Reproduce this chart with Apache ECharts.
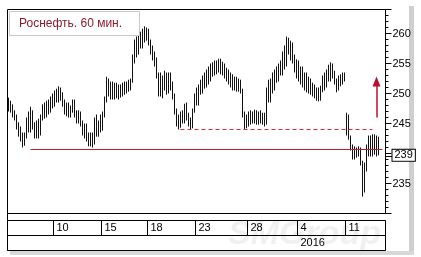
<!DOCTYPE html>
<html><head><meta charset="utf-8">
<script src="https://cdn.jsdelivr.net/npm/echarts@6/dist/echarts.min.js"></script>
<style>html,body{margin:0;padding:0;background:#fff}#c{width:421px;height:257px}</style>
</head><body><div id="c"></div><script>
const titleText = 'Роснефть. 60 мин.';
// hourly bars: [open, close, low, high]
const bars = [
[248,248.5,247,249.3],[248.5,247.5,246.8,248.8],[247.5,246.5,246,248.2],[246.5,246,245.5,247.2],[246,244.5,244,246.5],
[244.5,243.5,242.8,245.2],[243.5,242.5,242,244.5],[242.5,241.8,241,243.5],[241.8,243,241.3,243.5],[243,245.5,242.5,246],
[245.5,244,243.5,247],[244,246.5,243.5,247.8],[246.5,244.5,244,247.2],[244.5,243.2,242.5,245.2],[243.2,244.5,242.5,245.5],
[244.5,243.5,242.5,245.8],[243.5,246,243,246.5],[246,247.5,245.5,248.2],[247.5,246.5,245.8,248.5],[246.5,248,246,248.8],
[248,247,246.5,249],[247,249,246.8,249.5],[249,248.2,247.5,250],[248.2,250,247.8,250.5],[250,249,248.5,250.8],
[249,250.5,248.5,251.2],[250.5,249.5,248.8,251],[249.5,248.5,247.8,250.2],[248.5,247,246.5,249],[247,248,246.2,248.5],
[248,246.5,246,248.5],[246.5,247.5,246,248],[247.5,248.5,246.8,249],[248.5,246.5,246,249],[246.5,245.8,245,247.2],
[245.8,246.8,245,247.2],[246.8,245,244.5,247],[245,243.5,243,245.5],[243.5,244.5,242.5,245],[244.5,242.5,242,245],
[242.5,241.8,241.2,243.5],[241.8,243,241.2,243.5],[243,241.8,241,243.5],[241.8,245.5,241.5,246],[245.5,243.5,242.8,246.5],
[243.5,245,242.8,245.5],[245,244,243.5,246.5],[244,246.5,243.8,247],[246.5,249,246,249.5],[249,251.5,248.5,252.8],
[251.5,250,249.5,252.5],[250,251.5,249,252],[251.5,249.5,249,252],[249.5,251,249,251.8],[251,250,249.2,251.8],
[250,250.8,249,251.5],[250.8,250,249.3,251.5],[250,251.2,249.5,251.8],[251.2,250.5,249.8,252],[250.5,251.5,250,252],
[251.5,251,250.3,252.3],[251,252,250.5,252.5],[252,256,251.8,256.5],[256,258,255,259],[258,257,256,259.5],
[257,259.5,256.5,260],[259.5,258,257.5,260.3],[258,260.2,257.5,260.8],[260.2,259,258.5,261.2],[259,260.5,258.8,261],
[260.5,258.5,258,260.8],[258.5,257,256.5,259],[257,256,255.5,258],[256,255.5,254.5,257],[255.5,253,252.5,256],
[253,250,249.5,253.5],[250,252.5,249.5,253.5],[252.5,251,249.2,253],[251,253,250.5,253.8],[253,250.5,249.8,253.5],
[250.5,252.8,250,253.5],[252.8,251.5,250.5,253.5],[251.5,249.5,249,252],[249.5,247,246.5,250],[247,245,244.5,247.5],
[245,244.8,244,246.5],[244.8,246.5,244.3,247],[246.5,245.5,245,247.2],[245.5,247.5,245,248.3],[247.5,246,245.5,248.5],
[246,245,244.5,246.8],[245,244.5,244,246],[244.5,247,244.2,247.5],[247,249.5,246.8,250],[249.5,248.5,248,251],
[248.5,251,248,251.5],[251,250.5,249.8,252.3],[250.5,252.5,250,253],[252.5,251.5,250.8,253.5],[251.5,253.5,251,254],
[253.5,252.5,251.5,254.5],[252.5,254,252,255],[254,253.5,252.8,255.2],[253.5,255,253,255.5],[255,254,253.2,255.5],
[254,255.2,253.5,255.8],[255.2,254,253.2,255.8],[254,254.8,253,255.3],[254.8,253,252.5,255],[253,253.8,252,254.3],
[253.8,252,251.5,254],[252,252.8,251,253.5],[252.8,251.2,250.5,253.2],[251.2,252,250.5,252.8],[252,251,250.3,252.8],
[251,252,250.3,252.5],[252,250.5,250,252.3],[250.5,246.5,246,250.8],[246.5,244.8,244,247],[244.8,246,244.2,246.5],
[246,245,244.5,247],[245,246.5,244.8,247.2],[246.5,245.5,245,247],[245.5,246.8,245,247.3],[246.8,245.2,244.8,247.2],
[245.2,246.5,244.8,247],[246.5,245.5,245,247.2],[245.5,246.2,244.8,246.8],[246.2,245,244.5,246.8],[245,250.5,244.8,251],
[250.5,249,248.5,252.3],[249,252,248.5,252.5],[252,251,250,253.5],[251,253.5,250.5,254],[253.5,252.5,251.8,254.5],
[252.5,254.5,252,255],[254.5,253.5,253,255.5],[253.5,256.5,253,257],[256.5,255,254,258],[255,258.5,254.5,259.5],
[258.5,257,256.5,259.3],[257,258,255.5,258.8],[258,255.5,255,258.5],[255.5,254,253.5,256.5],[254,255,252.5,255.7],
[255,253,252,255.5],[253,253.8,251.5,254.5],[253.8,252,251,254.5],[252,252.8,250.5,253.5],[252.8,251,250.2,253.5],
[251,252,250,252.8],[252,250.5,249.8,252.5],[250.5,251.2,249.5,251.8],[251.2,249.8,249.2,251.5],[249.8,250.5,248.8,251],
[250.5,249.2,248.7,251],[249.2,250.8,248.8,251.3],[250.8,252.5,250.2,253],[252.5,251.5,250.5,253.5],[251.5,253.5,251,254],
[253.5,252.5,252,254.8],[252.5,254.5,252,255.2],[254.5,253,252.5,255],[253,252,251.5,253.8],[252,250.8,250.2,252.5],
[250.8,252.5,250.5,253],[252.5,252,251.2,253.2],[252,253,251.5,253.5],[253,252.5,252,253.5],[246.8,243.5,243,246.8],
[243.5,242.5,242.3,246.5],[242.5,241,240.5,243],[241,239.5,239,241.5],[239.5,240.5,239,241.2],[240.5,239.8,239.3,241],
[239.8,240.5,239.5,241.2],[240.5,238.5,238,241],[238.5,234,232.8,238.8],[234,237.5,233.5,238.5],[237.5,241,237,241.5],
[241,242.5,239.5,243],[242.5,240,239.5,243],[240,242.8,239.5,243.2],[242.8,240.5,239.8,243.2],[240.5,242,239.5,243],
[242,240,239.7,242.8]
];
const slotCount = 189;
const dayLabels = ['10','15','18','23','28','4','11'];
const dayStarts = [23,47,70,94,120,145,169];
const yearLabels = ['2016'];
const yearStarts = [145];
const yTickLabels = [235,245,250,255,260];
const supportLevel = 240.67, supportFrom = 11, supportTo = 187;
const resistLevel = 244, resistFrom = 86, resistTo = 182;
const lastPrice = 239.7, lastPriceLabel = '239';
const arrowSlot = 184, arrowFrom = 246, arrowTo = 252;

const FONT = '"Liberation Sans", Arial, sans-serif';
const cats = Array.from({length: slotCount}, (_, i) => String(i));
const candleData = cats.map((_, i) => bars[i] ? bars[i] : '-');

function rowAxis(grid, starts, labels) {
  return {
    gridIndex: grid, type: 'category', data: cats, position: 'top', boundaryGap: true,
    axisLine: {show: false, onZero: false},
    axisTick: {show: true, inside: true, length: 15, interval: (i) => starts.includes(i), lineStyle: {color: '#000', width: 1}},
    axisLabel: {show: true, inside: true, interval: (i) => starts.includes(i),
      formatter: (v, i) => { const k = starts.indexOf(i); return k >= 0 ? labels[k] : ''; },
      align: 'left', margin: 2, padding: [0,0,0,2], fontSize: 11, color: '#000', fontFamily: FONT},
    splitLine: {show: false}
  };
}

const chart = echarts.init(document.getElementById('c'), null, {renderer: 'canvas'});
chart.setOption({
  animation: false,
  backgroundColor: '#fff',
  title: {
    text: titleText, left: 9, top: 11, padding: [6, 18, 5, 10],
    borderColor: '#c8c8c8', borderWidth: 1, backgroundColor: '#fff',
    textStyle: {color: '#8b1a2e', fontSize: 12, fontWeight: 'normal', fontFamily: FONT, lineHeight: 14}
  },
  grid: [
    {left: 7.5, top: 9.5, width: 378, height: 204, show: true, borderColor: '#000', borderWidth: 1, backgroundColor: '#fff'},
    {left: 7.5, top: 220.5, width: 378, height: 15, show: true, borderColor: '#000', borderWidth: 1},
    {left: 7.5, top: 235.5, width: 378, height: 15, show: true, borderColor: '#000', borderWidth: 1}
  ],
  xAxis: [
    {gridIndex: 0, type: 'category', data: cats, boundaryGap: true, show: false},
    rowAxis(1, dayStarts, dayLabels),
    rowAxis(2, yearStarts, yearLabels)
  ],
  yAxis: [
    {gridIndex: 0, type: 'value', position: 'right', min: 230, max: 264, interval: 5,
      axisLine: {show: false},
      axisTick: {show: true, length: 6, lineStyle: {color: '#000'}},
      minorTick: {show: true, splitNumber: 5, length: 3, lineStyle: {color: '#000'}},
      splitLine: {show: false}, minorSplitLine: {show: false},
      axisLabel: {margin: 7, fontSize: 11, color: '#000', fontFamily: FONT,
        formatter: (v) => yTickLabels.includes(v) ? String(v) : ''}},
    {gridIndex: 1, show: false}, {gridIndex: 2, show: false}
  ],
  series: [{
    type: 'candlestick', xAxisIndex: 0, yAxisIndex: 0, data: candleData, barWidth: 0.1,
    itemStyle: {color: '#000', color0: '#000', borderColor: '#111', borderColor0: '#111', borderWidth: 1},
    markLine: {
      silent: true, symbol: 'none', animation: false, label: {show: false},
      data: [
        [{coord: [supportFrom, supportLevel], lineStyle: {color: '#b42030', width: 1, type: 'solid'}}, {coord: [supportTo, supportLevel]}],
        [{coord: [resistFrom, resistLevel], lineStyle: {color: '#e0283f', width: 1, type: [4, 3]}}, {coord: [resistTo, resistLevel]}],
        [{coord: [arrowSlot, arrowFrom], symbol: 'none', lineStyle: {color: '#b8102c', width: 1.5, type: 'solid'}},
         {coord: [arrowSlot, arrowTo], symbol: 'triangle', symbolSize: [8, 10]}],
        {yAxis: lastPrice, lineStyle: {color: 'rgba(0,0,0,0)', width: 0},
          label: {show: true, position: 'end', distance: 7, formatter: lastPriceLabel, color: '#000', fontSize: 11, fontFamily: FONT,
            backgroundColor: '#fff', borderColor: '#000', borderWidth: 1, padding: [0, 2, 0, 2], lineHeight: 11}}
      ]
    }
  }],
  graphic: [
    {type: 'line', shape: {x1: 7.5, y1: 213.5, x2: 7.5, y2: 220.5}, style: {stroke: '#000', lineWidth: 1}},
    {type: 'line', shape: {x1: 386, y1: 156.5, x2: 393, y2: 156.5}, style: {stroke: '#000', lineWidth: 1}},
    {type: 'rect', shape: {x: 409, y: 6, width: 5, height: 248}, style: {fill: '#cfcfcf'}},
    {type: 'rect', shape: {x: 10, y: 251, width: 404, height: 4}, style: {fill: '#d8d8d8'}},
    {type: 'text', left: 228, top: 218, z: 100, silent: true,
      style: {text: 'SMGroup', font: 'italic bold 34px "Liberation Sans", Arial, sans-serif', fill: 'rgba(0,0,0,0.06)'}}
  ]
});
</script></body></html>
